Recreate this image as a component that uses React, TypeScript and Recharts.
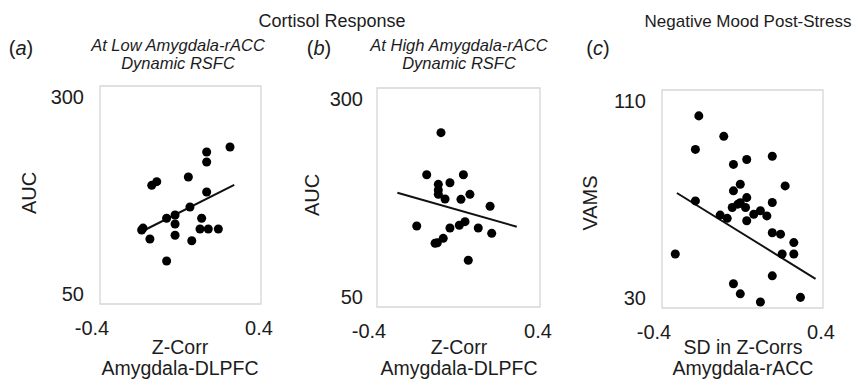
import React from 'react'
import {
  ScatterChart, Scatter, XAxis, YAxis, ZAxis, ReferenceArea, ReferenceLine,
} from 'recharts'

// Panel (a): cortisol AUC vs Amygdala-DLPFC z-corr, low rACC dynamic RSFC
const lowX = [-0.193, -0.186, -0.152, -0.143, -0.118, -0.069, -0.069, -0.027, -0.027, -0.027, 0.039, 0.047, 0.056, 0.105, 0.097, 0.138, 0.188, 0.130, 0.130, 0.130, 0.246]
const lowY = [134.9, 137.0, 124.5, 186.1, 190.3, 148.3, 99.3, 152.1, 141.7, 128.8, 195.6, 161.2, 122.6, 148.3, 136.0, 136.0, 136.0, 178.4, 212.8, 224.3, 230.0]
const lowFit = [{ x: -0.168, y: 136.0 }, { x: 0.267, y: 186.5 }]

// Panel (b): high rACC dynamic RSFC
const highX = [-0.086, -0.156, 0.024, -0.099, -0.042, -0.099, -0.099, -0.066, 0.012, 0.056, 0.155, -0.205, -0.042, 0.004, 0.032, 0.097, 0.163, -0.075, -0.115, -0.104, 0.048]
const highY = [249.0, 201.0, 201.0, 190.0, 191.9, 183.6, 178.6, 173.3, 172.9, 178.6, 165.0, 142.5, 140.2, 143.3, 147.4, 140.2, 134.1, 128.4, 122.7, 123.4, 103.3]
const highFit = [{ x: -0.300, y: 180.5 }, { x: 0.286, y: 141.7 }]

// Panel (c): VAMS vs SD in z-corrs Amygdala-rACC
const moodX = [-0.217, -0.093, -0.234, -0.045, 0.021, 0.148, -0.011, -0.045, 0.212, -0.234, 0.021, -0.011, -0.051, 0.015, -0.023, 0.148, -0.111, -0.076, 0.021, 0.056, 0.089, 0.121, 0.148, 0.189, 0.255, 0.197, 0.255, -0.334, 0.148, -0.045, -0.011, 0.089, 0.288]
const moodY = [100.5, 93.0, 88.2, 82.7, 84.5, 85.7, 75.4, 73.0, 74.8, 69.3, 70.5, 68.6, 66.9, 66.9, 68.1, 68.7, 64.1, 62.9, 62.0, 64.4, 65.7, 63.8, 57.6, 57.1, 54.0, 49.8, 49.8, 49.8, 41.8, 38.9, 35.2, 32.2, 33.9]
const moodFit = [{ x: -0.326, y: 72.2 }, { x: 0.363, y: 40.7 }]

const xTicks = [-0.4, 0.4]
const aucTicks = [50, 300]
const vamsTicks = [30, 110]

const FONT = '"Liberation Sans", Arial, Helvetica, sans-serif'
const INK = '#1c1c1c'

const zip = (xs: number[], ys: number[]) => xs.map((x, i) => ({ x, y: ys[i] }))

interface PanelProps {
  left: number
  margin: { top: number; right: number; bottom: number; left: number }
  data: { x: number; y: number }[]
  fit: { x: number; y: number }[]
  yTicks: number[]
  gap: number
}

const YW = 70
const XH = 40

function Panel({ left, margin, data, fit, yTicks, gap }: PanelProps) {
  const [yMin, yMax] = [yTicks[0], yTicks[yTicks.length - 1]]

  const yTick = (p: any) => {
    const v = p.payload.value
    const dy = v === yMax ? 11 : -10
    return (
      <text x={p.x - gap} y={p.y + dy} textAnchor="end" dominantBaseline="central"
        fontSize={20} fill={INK} fontFamily={FONT}>{v}</text>
    )
  }
  const xTick = (p: any) => {
    const v = p.payload.value
    const dx = v === xTicks[0] ? -8 : -2
    return (
      <text x={p.x + dx} y={p.y + 24} textAnchor="middle" dominantBaseline="central"
        fontSize={20} fill={INK} fontFamily={FONT}>{v}</text>
    )
  }

  return (
    <div style={{ position: 'absolute', left, top: 0 }}>
      <ScatterChart width={285} height={379} margin={margin}>
        <XAxis type="number" dataKey="x" domain={[xTicks[0], xTicks[1]]} ticks={xTicks}
          allowDataOverflow axisLine={false} tickLine={false} tickSize={0} tickMargin={0}
          height={XH} tick={xTick} interval={0} />
        <YAxis type="number" dataKey="y" domain={[yMin, yMax]} ticks={yTicks}
          allowDataOverflow axisLine={false} tickLine={false} tickSize={0} tickMargin={0}
          width={YW} tick={yTick} interval={0} />
        <ZAxis range={[80, 80]} />
        <ReferenceArea x1={xTicks[0]} x2={xTicks[1]} y1={yMin} y2={yMax}
          stroke="#d6d6d6" strokeWidth={1.3} fill="none" fillOpacity={0} />
        <ReferenceLine segment={fit} stroke="#111" strokeWidth={2} />
        <Scatter data={data} fill="#000" shape="circle" isAnimationActive={false} />
      </ScatterChart>
    </div>
  )
}

const txt = (x: number, y: number, size: number, extra: React.CSSProperties = {}): React.CSSProperties => ({
  position: 'absolute', left: x, top: y, transform: 'translate(-50%, -50%)',
  fontSize: size, color: INK, whiteSpace: 'nowrap', lineHeight: 1, textAlign: 'center', ...extra,
})

const rot = { transform: 'translate(-50%, -50%) rotate(-90deg)' }
const sub = { fontStyle: 'italic' as const, lineHeight: '17.5px' }
const xt = { lineHeight: '20.5px' }

export default function App() {
  return (
    <div style={{
      position: 'absolute', left: 0, top: 0, width: 857, height: 379,
      background: '#fff', fontFamily: FONT, overflow: 'hidden',
    }}>
      <Panel left={0} margin={{ top: 86, right: 24, bottom: 379 - 304 - XH, left: 100 - YW }}
        data={zip(lowX, lowY)} fit={lowFit} yTicks={aucTicks} gap={16} />
      <Panel left={285} margin={{ top: 88, right: 30, bottom: 379 - 307 - XH, left: 377 - 285 - YW }}
        data={zip(highX, highY)} fit={highFit} yTicks={aucTicks} gap={14} />
      <Panel left={570} margin={{ top: 90, right: 32, bottom: 379 - 308 - XH, left: 662 - 570 - YW }}
        data={zip(moodX, moodY)} fit={moodFit} yTicks={vamsTicks} gap={16} />

      <div style={txt(332, 21, 18)}>Cortisol Response</div>
      <div style={txt(748, 21, 17)}>Negative Mood Post-Stress</div>

      <div style={txt(21, 48, 20)}>(<i>a</i>)</div>
      <div style={txt(319, 48, 20)}>(<i>b</i>)</div>
      <div style={txt(598, 48, 20)}>(<i>c</i>)</div>

      <div style={txt(178, 54, 16.5, sub)}>At Low Amygdala-rACC<br />Dynamic RSFC</div>
      <div style={txt(459, 54, 16.5, sub)}>At High Amygdala-rACC<br />Dynamic RSFC</div>

      <div style={txt(29, 193, 20, rot)}>AUC</div>
      <div style={txt(312, 195, 20, rot)}>AUC</div>
      <div style={txt(590, 203, 20, rot)}>VAMS</div>

      <div style={txt(180, 357, 19.5, xt)}>Z-Corr<br />Amygdala-DLPFC</div>
      <div style={txt(459, 357, 19.5, xt)}>Z-Corr<br />Amygdala-DLPFC</div>
      <div style={txt(743, 357, 19.5, xt)}>SD in Z-Corrs<br />Amygdala-rACC</div>
    </div>
  )
}
